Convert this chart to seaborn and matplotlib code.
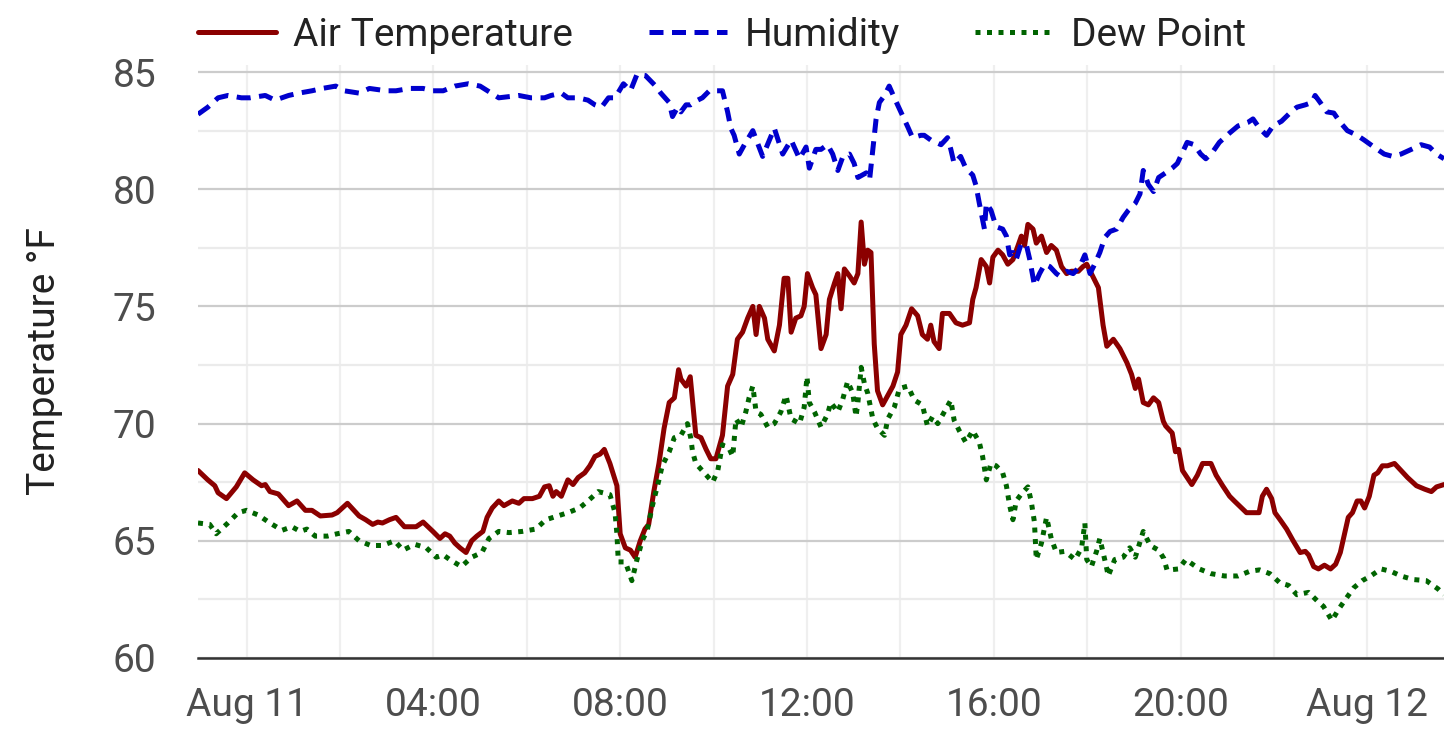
import pandas as pd
import matplotlib
matplotlib.use("Agg")
import matplotlib.pyplot as plt
import matplotlib.dates as mdates
from matplotlib.ticker import MultipleLocator, FuncFormatter
import seaborn as sns

# readings, hours relative to Aug 11 00:00
temp_hours = [-1.04, -0.83, -0.68, -0.61, -0.43, -0.22, -0.04, 0.14, 0.32, 0.40, 0.50, 0.68, 0.90, 1.08,
              1.26, 1.40, 1.58, 1.83, 1.94, 2.16, 2.41, 2.55, 2.70, 2.81, 2.91, 3.06, 3.20, 3.38, 3.63,
              3.78, 3.99, 4.14, 4.25, 4.35, 4.46, 4.57, 4.70, 4.82, 4.93, 5.06, 5.15, 5.26, 5.40, 5.51,
              5.69, 5.83, 5.94, 6.12, 6.27, 6.38, 6.48, 6.56, 6.63, 6.74, 6.88, 6.99, 7.10, 7.24, 7.35,
              7.46, 7.57, 7.66, 7.78, 7.93, 8.00, 8.11, 8.22, 8.32, 8.43, 8.53, 8.61, 8.72, 8.83, 8.94,
              9.05, 9.16, 9.25, 9.30, 9.41, 9.50, 9.62, 9.73, 9.84, 9.94, 10.05, 10.19, 10.30, 10.41,
              10.51, 10.62, 10.73, 10.84, 10.91, 10.98, 11.09, 11.16, 11.30, 11.41, 11.51, 11.59, 11.66,
              11.76, 11.87, 11.94, 12.01, 12.12, 12.19, 12.30, 12.41, 12.48, 12.59, 12.66, 12.73, 12.80,
              12.91, 13.01, 13.09, 13.16, 13.23, 13.30, 13.37, 13.44, 13.51, 13.62, 13.73, 13.84, 13.94,
              14.01, 14.12, 14.24, 14.37, 14.47, 14.58, 14.65, 14.72, 14.83, 14.90, 15.05, 15.19, 15.33,
              15.48, 15.55, 15.62, 15.73, 15.84, 15.91, 15.98, 16.09, 16.19, 16.30, 16.41, 16.52, 16.59,
              16.66, 16.73, 16.84, 16.91, 17.02, 17.13, 17.23, 17.34, 17.45, 17.56, 17.66, 17.81, 17.91,
              17.99, 18.09, 18.24, 18.34, 18.42, 18.56, 18.70, 18.85, 18.95, 19.03, 19.10, 19.20, 19.31,
              19.42, 19.53, 19.63, 19.68, 19.82, 19.89, 19.96, 20.04, 20.14, 20.24, 20.36, 20.47, 20.65,
              20.76, 20.90, 21.05, 21.15, 21.28, 21.41, 21.55, 21.68, 21.75, 21.84, 21.95, 22.02, 22.13,
              22.27, 22.41, 22.56, 22.67, 22.74, 22.85, 22.95, 23.08, 23.21, 23.32, 23.42, 23.50, 23.59,
              23.68, 23.78, 23.86, 23.94, 24.04, 24.14, 24.22, 24.32, 24.43, 24.58, 24.72, 24.86, 25.05,
              25.23, 25.37, 25.48, 25.64]
temp_values = [68.0, 67.6, 67.35, 67.05, 66.8, 67.3, 67.9, 67.6, 67.35, 67.4, 67.1, 67.0, 66.5, 66.7,
               66.3, 66.3, 66.06, 66.1, 66.2, 66.6, 66.06, 65.9, 65.7, 65.8, 65.76, 65.9, 66.0, 65.6, 65.6,
               65.8, 65.4, 65.1, 65.3, 65.2, 64.9, 64.7, 64.5, 65.0, 65.2, 65.4, 66.0, 66.4, 66.7, 66.5,
               66.7, 66.6, 66.8, 66.8, 66.9, 67.3, 67.35, 66.9, 67.1, 66.9, 67.6, 67.4, 67.7, 67.9, 68.2,
               68.6, 68.7, 68.9, 68.3, 67.35, 65.3, 64.7, 64.6, 64.3, 65.0, 65.5, 65.7, 67.1, 68.3, 69.8,
               70.9, 71.1, 72.3, 71.9, 71.6, 72.0, 69.5, 69.4, 68.9, 68.5, 68.5, 69.5, 71.6, 72.1,
               73.6, 73.9, 74.5, 75.0, 73.8, 75.0, 74.5, 73.6, 73.1, 74.2, 76.2, 76.2, 73.9,
               74.5, 74.6, 75.0, 76.4, 75.8, 75.5, 73.2, 73.8, 75.3, 76.0, 76.4, 74.9, 76.6,
               76.3, 76.0, 76.4, 78.6, 76.8, 77.4, 77.3, 73.4, 71.4, 70.8, 71.2, 71.6, 72.2,
               73.8, 74.2, 74.9, 74.6, 73.8, 73.6, 74.2, 73.5, 73.2, 74.7, 74.7, 74.3, 74.2,
               74.3, 75.3, 75.8, 77.0, 76.7, 76.0, 77.1, 77.4, 77.2, 76.8, 77.0, 77.6, 78.0,
               77.6, 78.5, 78.3, 77.7, 78.0, 77.3, 77.6, 77.4, 76.7, 76.4, 76.5, 76.5, 76.7,
               76.8, 76.4, 75.8, 74.2, 73.3, 73.6, 73.2, 72.6, 72.1, 71.5, 71.9, 70.9, 70.8,
               71.1, 70.9, 70.1, 69.9, 69.6, 68.8, 68.9, 68.0, 67.7, 67.4, 67.8, 68.3, 68.3,
               67.8, 67.35, 66.9, 66.7, 66.45, 66.2, 66.2, 66.2, 66.9, 67.2, 66.8, 66.2, 65.9,
               65.5, 65.0, 64.5, 64.55, 64.4, 63.9, 63.8, 63.96, 63.8, 64.0, 64.5, 65.2, 66.0,
               66.2, 66.7, 66.7, 66.4, 66.9, 67.8, 67.9, 68.2, 68.2, 68.3, 68.0, 67.7, 67.35,
               67.2, 67.1, 67.3, 67.4]

hum_hours = [-1.04, -0.83, -0.61, -0.40, -0.11, 0.07, 0.40, 0.61, 0.90, 1.12, 1.40, 1.62, 1.91, 2.09,
             2.41, 2.63, 2.99, 3.20, 3.49, 3.78, 3.99, 4.21, 4.46, 4.75, 5.00, 5.40, 5.83, 6.09, 6.38,
             6.52, 6.74, 6.88, 7.10, 7.31, 7.46, 7.60, 7.75, 7.89, 8.07, 8.22, 8.36, 8.54, 8.76, 8.87,
             9.05, 9.12, 9.23, 9.30, 9.41, 9.51, 9.66, 9.76, 9.91, 10.05, 10.19, 10.30, 10.37, 10.44,
             10.55, 10.66, 10.84, 11.05, 11.30, 11.48, 11.66, 11.84, 11.98, 12.05, 12.19, 12.30, 12.44,
             12.55, 12.66, 12.77, 12.91, 13.01, 13.09, 13.27, 13.34, 13.41, 13.48, 13.55, 13.66, 13.76,
             13.87, 14.01, 14.16, 14.26, 14.44, 14.51, 14.65, 14.87, 15.01, 15.08, 15.15, 15.29, 15.40,
             15.55, 15.62, 15.69, 15.80, 15.84, 15.94, 16.05, 16.19, 16.27, 16.34, 16.41, 16.48, 16.59,
             16.70, 16.77, 16.87, 16.98, 17.09, 17.20, 17.34, 17.41, 17.56, 17.70, 17.84, 17.95, 18.06,
             18.16, 18.27, 18.38, 18.49, 18.63, 18.77, 18.88, 19.03, 19.13, 19.20, 19.31, 19.42, 19.53,
             19.68, 19.82, 19.93, 20.07, 20.14, 20.29, 20.43, 20.54, 20.69, 20.83, 21.05, 21.23, 21.44,
             21.55, 21.69, 21.84, 21.98, 22.16, 22.34, 22.49, 22.67, 22.81, 22.88, 22.99, 23.13, 23.28,
             23.42, 23.57, 23.78, 23.93, 24.14, 24.36, 24.54, 24.72, 24.94, 25.15, 25.33, 25.48, 25.64]
hum_values = [83.2, 83.5, 83.9, 84.0, 83.9, 83.9, 84.0, 83.8, 84.0, 84.1, 84.2, 84.3, 84.4, 84.2,
              84.1, 84.3, 84.2, 84.2, 84.3, 84.3, 84.2, 84.2, 84.4, 84.5, 84.4, 83.9, 84.0, 83.9, 83.9,
              84.0, 84.1, 83.9, 83.9, 83.8, 83.6, 83.5, 83.9, 83.9, 84.5, 84.2, 84.9, 84.85, 84.4, 84.1,
              83.7, 83.1, 83.5, 83.3, 83.6, 83.6, 83.8, 83.9, 84.2, 84.2, 84.2, 83.3, 82.6, 82.3,
              81.5, 81.9, 82.5, 81.4, 82.6, 81.5, 82.1, 81.3, 81.8, 80.9, 81.7, 81.7, 81.9,
              81.5, 80.8, 81.4, 81.5, 81.1, 80.5, 80.7, 80.4, 81.7, 83.0, 83.7, 84.0, 84.4,
              83.9, 83.3, 82.65, 82.2, 82.3, 82.3, 82.1, 81.9, 82.2, 81.7, 81.1, 81.4, 80.9,
              80.6, 80.15, 79.4, 78.3, 79.4, 79.1, 78.4, 78.3, 78.0, 77.2, 77.3, 77.0, 77.7,
              77.6, 77.0, 75.9, 76.4, 76.8, 76.7, 76.4, 76.3, 76.5, 76.4, 76.7, 77.2, 76.4,
              76.8, 77.3, 77.95, 78.2, 78.3, 78.8, 79.1, 79.4, 79.8, 80.8, 80.2, 79.9, 80.5,
              80.7, 80.9, 81.1, 81.7, 82.0, 81.9, 81.5, 81.3, 81.6, 82.0, 82.4, 82.7, 82.85,
              83.0, 82.6, 82.3, 82.7, 82.9, 83.25, 83.5, 83.6, 83.7, 84.0, 83.7, 83.3, 83.25,
              82.85, 82.5, 82.3, 82.1, 81.8, 81.5, 81.4, 81.5, 81.7, 81.9, 81.8, 81.5, 81.3]

dew_hours = [-1.04, -0.79, -0.65, -0.40, -0.18, 0.00, 0.25, 0.50, 0.76, 0.97, 1.15, 1.29, 1.47, 1.73,
             1.94, 2.19, 2.41, 2.66, 2.91, 3.17, 3.35, 3.60, 3.85, 4.06, 4.21, 4.35, 4.60, 4.82, 5.04,
             5.19, 5.40, 5.62, 5.90, 6.19, 6.41, 6.66, 6.88, 7.13, 7.31, 7.53, 7.78, 7.89, 7.93, 7.96,
             8.11, 8.25, 8.36, 8.47, 8.58, 8.69, 8.83, 8.90, 9.05, 9.16, 9.30, 9.44, 9.51, 9.55, 9.62,
             9.80, 9.98, 10.09, 10.19, 10.34, 10.41, 10.48, 10.59, 10.69, 10.76, 10.84, 10.91, 11.01,
             11.16, 11.30, 11.44, 11.55, 11.66, 11.84, 11.94, 12.00, 12.05, 12.16, 12.30, 12.44, 12.51,
             12.66, 12.76, 12.87, 12.98, 13.05, 13.09, 13.16, 13.23, 13.30, 13.41, 13.51, 13.66, 13.73,
             13.87, 13.98, 14.16, 14.30, 14.47, 14.58, 14.69, 14.80, 14.94, 15.08, 15.15, 15.26, 15.40,
             15.55, 15.69, 15.76, 15.84, 15.94, 16.05, 16.19, 16.27, 16.34, 16.41, 16.48, 16.59, 16.73,
             16.80, 16.87, 16.91, 17.02, 17.13, 17.23, 17.34, 17.52, 17.74, 17.88, 17.95, 17.99, 18.09,
             18.20, 18.27, 18.41, 18.45, 18.59, 18.77, 18.91, 19.03, 19.20, 19.35, 19.53, 19.64, 19.71,
             19.96, 20.11, 20.40, 20.65, 20.94, 21.23, 21.48, 21.69, 21.91, 22.13, 22.31, 22.49, 22.74,
             22.92, 23.06, 23.24, 23.39, 23.53, 23.71, 23.89, 24.07, 24.29, 24.50, 24.72, 24.97, 25.26,
             25.51, 25.64]
dew_values = [65.76, 65.7, 65.3, 65.76, 66.2, 66.3, 66.1, 65.76, 65.45, 65.6, 65.4, 65.5, 65.2, 65.2,
              65.3, 65.4, 65.0, 64.8, 64.8, 65.0, 64.6, 64.85, 64.7, 64.3, 64.4, 64.2, 63.9, 64.3, 64.5,
              65.1, 65.4, 65.35, 65.4, 65.5, 65.9, 66.06, 66.2, 66.4, 66.7, 67.1, 66.97, 66.2, 65.3, 64.1,
              64.1, 63.3, 64.2, 65.0, 65.45, 66.5, 67.6, 68.2, 68.8, 69.4, 69.5, 70.0, 69.4, 68.8, 68.3,
              67.9, 67.5, 68.0, 69.1, 68.9, 68.6, 70.2, 69.85, 70.5, 71.1, 71.6, 70.5, 70.4,
              69.85, 70.0, 70.5, 71.2, 70.2, 70.0, 70.7, 72.0, 70.9, 70.5, 69.85, 70.4, 70.9,
              70.5, 71.0, 71.8, 71.3, 70.3, 70.9, 72.4, 71.7, 71.3, 70.2, 69.8, 69.5, 70.2,
              70.7, 71.5, 71.6, 71.0, 70.8, 69.9, 70.3, 70.0, 70.5, 71.0, 70.15, 69.7, 69.2,
              69.7, 69.2, 68.6, 67.6, 68.3, 68.2, 67.9, 67.35, 66.5, 65.9, 66.7, 67.0, 67.3,
              66.7, 65.8, 64.2, 64.9, 66.0, 65.1, 64.5, 64.55, 64.2, 64.7, 65.76, 64.2, 63.9,
              64.55, 65.1, 63.9, 63.5, 64.2, 64.3, 64.7, 64.3, 65.4, 64.8, 64.6, 64.25, 63.75,
              63.8, 64.2, 63.8, 63.6, 63.5, 63.5, 63.7, 63.76, 63.6, 63.2, 63.1, 62.7, 62.8,
              62.45, 62.2, 61.6, 62.1, 62.5, 63.0, 63.3, 63.5, 63.8, 63.7, 63.5, 63.35, 63.3,
              62.95, 62.7]

series_names = ["Air Temperature", "Humidity", "Dew Point"]
series_colors = ["#8B0000", "#0000CD", "#006400"]

base = pd.Timestamp("2024-08-11")


def to_times(hours):
    return base + pd.to_timedelta(hours, unit="h")


df_temp = pd.DataFrame({"time": to_times(temp_hours), "value": temp_values})
df_hum = pd.DataFrame({"time": to_times(hum_hours), "value": hum_values})
df_dew = pd.DataFrame({"time": to_times(dew_hours), "value": dew_values})

sns.set_theme(style="white")
plt.rcParams["font.family"] = ["Roboto", "DejaVu Sans"]

fig = plt.figure(figsize=(14.44, 7.41), dpi=100)
ax = fig.add_axes([198 / 1444, 1 - 658 / 741, 1 - 198 / 1444, (658 - 65) / 741])

lw = 3.6
fs = 28
sns.lineplot(data=df_temp, x="time", y="value", ax=ax, color=series_colors[0],
             linewidth=lw, label=series_names[0])
sns.lineplot(data=df_hum, x="time", y="value", ax=ax, color=series_colors[1],
             linewidth=lw, linestyle=(0, (2.8, 1.7)), label=series_names[1])
sns.lineplot(data=df_dew, x="time", y="value", ax=ax, color=series_colors[2],
             linewidth=lw, linestyle=(0, (1.0, 1.3)), label=series_names[2])

ax.set_xlim(df_temp["time"].iloc[0], df_temp["time"].iloc[-1])
ax.set_ylim(60, 85.3)

# y axis
ax.yaxis.set_major_locator(MultipleLocator(5))
ax.yaxis.set_minor_locator(MultipleLocator(2.5))
ax.grid(axis="y", which="major", color="#CCCCCC", linewidth=1.6)
ax.grid(axis="y", which="minor", color="#EBEBEB", linewidth=1.6)

# x axis
ax.xaxis.set_major_locator(mdates.HourLocator(byhour=[0, 4, 8, 12, 16, 20]))
ax.xaxis.set_minor_locator(mdates.HourLocator(byhour=list(range(0, 24, 2))))


def fmt_time(x, pos):
    d = mdates.num2date(x)
    return d.strftime("%b %d") if d.hour == 0 else d.strftime("%H:%M")


ax.xaxis.set_major_formatter(FuncFormatter(fmt_time))
ax.grid(axis="x", which="both", color="#EFEFEF", linewidth=1.6)
ax.set_axisbelow(True)

ax.tick_params(axis="both", which="both", length=0)
ax.tick_params(axis="x", labelsize=fs, labelcolor="#4D4D4D", pad=21)
ax.tick_params(axis="y", labelsize=fs, labelcolor="#4D4D4D", pad=30)

for s in ["left", "right", "top"]:
    ax.spines[s].set_visible(False)
ax.spines["bottom"].set_color("#333333")
ax.spines["bottom"].set_linewidth(1.8)

ax.set_xlabel("")
ax.set_ylabel("Temperature °F", fontsize=fs, color="#222222")
ax.yaxis.set_label_coords(-0.108, 0.5)

ax.legend(loc="center left", bbox_to_anchor=(198 / 1444, 1 - 35 / 741),
          bbox_transform=fig.transFigure, ncol=3, frameon=False, fontsize=fs,
          handlelength=2.0, handletextpad=0.45, columnspacing=1.95, borderpad=0,
          borderaxespad=0, labelcolor="#222222")

fig.savefig("out.png", dpi=100)
